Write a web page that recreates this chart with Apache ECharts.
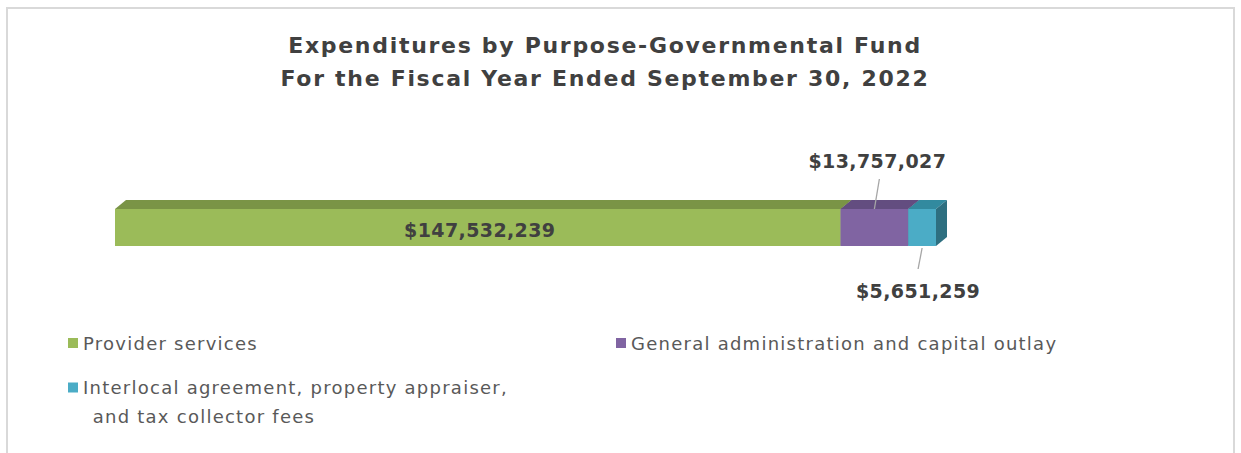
<!DOCTYPE html>
<html><head><meta charset="utf-8">
<script src="https://cdn.jsdelivr.net/npm/echarts@6/dist/echarts.min.js"></script>
<style>
html,body{margin:0;padding:0;background:#fff;}
#frame{position:absolute;left:6px;top:7px;width:1225px;height:460px;border:2px solid #d9d9d9;border-bottom:none;}
#chart{position:absolute;left:0;top:0;width:1241px;height:453px;}
#chart text[style*="22px"]{letter-spacing:1.7px;}
#chart text[style*="18px"]{letter-spacing:1.25px;}
#chart text[style*="19px"]{letter-spacing:0.4px;}
</style></head>
<body>
<div id="frame"></div>
<div id="chart"></div>
<script>
const titleLines = ['Expenditures by Purpose-Governmental Fund', 'For the Fiscal Year Ended September 30, 2022'];
const categories = ['FY2022'];
const seriesNames = ['Provider services', 'General administration and capital outlay', 'Interlocal agreement, property appraiser, and tax collector fees'];
const values = [147532239, 13757027, 5651259];
const labelTexts = ['$147,532,239', '$13,757,027', '$5,651,259'];

const frontColors = ['#9bbb59', '#8064a2', '#4bacc6'];
const topColors = ['#7a9446', '#634d80', '#328a9f'];
const sideColors = ['#6f873f', '#584673', '#2e6f80'];
const labelPlace = ['inside', 'above', 'below'];

const starts = [];
let acc = 0;
values.forEach(v => { starts.push(acc); acc += v; });
const total = acc;

const chart = echarts.init(document.getElementById('chart'), null, { renderer: 'svg' });
const FONT = '"DejaVu Sans", sans-serif';
const DX = 11, DY = 9, BH = 37;

function makeRender(i) {
  return function (params, api) {
    const v = api.value(0);
    const s = starts[i];
    const p0 = api.coord([s, api.value(1)]);
    const p1 = api.coord([s + v, api.value(1)]);
    const x0 = p0[0], x1 = p1[0], top = p0[1] - BH / 2, bot = top + BH;
    const ch = [
      { type: 'rect', shape: { x: x0, y: top, width: x1 - x0, height: BH }, style: { fill: frontColors[i] } },
      { type: 'polygon', shape: { points: [[x0, top], [x0 + DX, top - DY], [x1 + DX, top - DY], [x1, top]] }, style: { fill: topColors[i] } },
      { type: 'polygon', shape: { points: [[x1, top], [x1 + DX, top - DY], [x1 + DX, bot - DY], [x1, bot]] }, style: { fill: sideColors[i] } }
    ];
    const mx = (x0 + x1) / 2;
    const ts = { fontFamily: FONT, fontWeight: 'bold', fontSize: 19, fill: '#404040', align: 'center' };
    if (labelPlace[i] === 'inside') {
      ch.push({ type: 'text', style: Object.assign({ x: mx + 2, y: (top + bot) / 2 + 2, text: labelTexts[i], verticalAlign: 'middle' }, ts) });
    } else if (labelPlace[i] === 'above') {
      ch.push({ type: 'line', shape: { x1: mx, y1: top, x2: mx + 5, y2: top - 30 }, style: { stroke: '#a6a6a6', lineWidth: 1.3 } });
      ch.push({ type: 'text', style: Object.assign({ x: mx + 3, y: top - 48, text: labelTexts[i], verticalAlign: 'middle' }, ts) });
    } else {
      ch.push({ type: 'line', shape: { x1: mx, y1: bot + 2, x2: mx - 4, y2: bot + 23 }, style: { stroke: '#a6a6a6', lineWidth: 1.3 } });
      ch.push({ type: 'text', style: Object.assign({ x: mx - 4, y: bot + 45, text: labelTexts[i], verticalAlign: 'middle' }, ts) });
    }
    return { type: 'group', children: ch };
  };
}

const legendBase = {
  icon: 'rect', itemWidth: 10, itemHeight: 10, padding: 0, itemGap: 0,
  textStyle: { fontFamily: FONT, fontSize: 18, color: '#595959' }
};

chart.setOption({
  animation: false,
  backgroundColor: 'transparent',
  title: {
    text: titleLines.join('\n'),
    left: 600, top: 24, textAlign: 'center',
    textStyle: { fontFamily: FONT, fontWeight: 'bold', fontSize: 22, lineHeight: 33, color: '#404040' }
  },
  legend: [
    Object.assign({}, legendBase, { data: [seriesNames[0]], left: 68, top: 334 }),
    Object.assign({}, legendBase, { data: [seriesNames[1]], left: 616, top: 334 }),
    Object.assign({}, legendBase, {
      data: [seriesNames[2]], left: 68, top: 344,
      formatter: () => ' \nInterlocal agreement, property appraiser,\n\u2009\u2009and tax collector fees',
      textStyle: Object.assign({}, legendBase.textStyle, { lineHeight: 29 })
    })
  ],
  grid: { left: 115, right: 305, top: 190, height: 75 },
  xAxis: { type: 'value', min: 0, max: total, show: false },
  yAxis: { type: 'category', data: categories, show: false },
  series: values.map((v, i) => ({
    type: 'custom',
    name: seriesNames[i],
    itemStyle: { color: frontColors[i] },
    renderItem: makeRender(i),
    encode: { x: 0, y: 1 },
    data: [[v, 0]]
  }))
});
</script>
</body></html>
